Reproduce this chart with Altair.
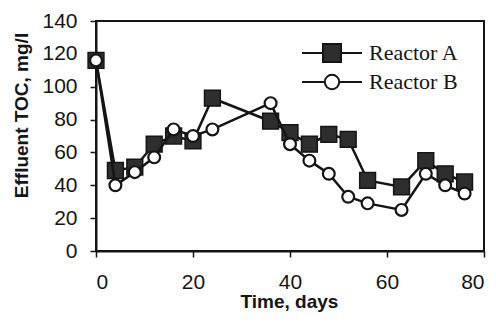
import altair as alt
import pandas as pd

days = [0, 4, 8, 12, 16, 20, 24, 36, 40, 44, 48, 52, 56, 63, 68, 72, 76]
reactor_a = [116, 49, 51, 65, 70, 67, 93, 79, 72, 65, 71, 68, 43, 39, 55, 47, 42]
reactor_b = [116, 40, 48, 57, 74, 70, 74, 90, 65, 55, 47, 33, 29, 25, 47, 40, 35]
series = ["Reactor A", "Reactor B"]
x_ticks = [0, 20, 40, 60, 80]
y_ticks = [0, 20, 40, 60, 80, 100, 120, 140]

n = len(days)
df = pd.DataFrame({
    "day": days * 2,
    "toc": reactor_a + reactor_b,
    "reactor": [series[0]] * n + [series[1]] * n,
})

INK = "#151515"

x = alt.X("day:Q", scale=alt.Scale(domain=[0, 80], nice=False),
          axis=alt.Axis(values=x_ticks, title="Time, days", labelPadding=14,
                        titleX=193, titleY=56, titleBaseline="alphabetic",
                        titleAlign="center"))
y = alt.Y("toc:Q", scale=alt.Scale(domain=[0, 140], nice=False),
          axis=alt.Axis(values=y_ticks, title="Effluent TOC, mg/l", labelPadding=13,
                        titleX=-69, titleY=94, titleAngle=270,
                        titleBaseline="alphabetic", titleAlign="center"))

base = alt.Chart(df).encode(x=x, y=y)

line_a = base.transform_filter(alt.datum.reactor == series[0]).mark_line(
    color=INK, strokeWidth=2.5)
pts_a = base.transform_filter(alt.datum.reactor == series[0]).mark_point(
    shape="square", filled=True, size=250, fill="#2e2e2e", stroke=INK,
    strokeWidth=1.5, opacity=1)
line_b = base.transform_filter(alt.datum.reactor == series[1]).mark_line(
    color=INK, strokeWidth=2.5)
pts_b = base.transform_filter(alt.datum.reactor == series[1]).mark_point(
    shape="circle", filled=True, size=140, fill="white", stroke=INK,
    strokeWidth=2.2, opacity=1)

path_a = "M-3,0H-0.9M0.9,0H3M-0.9,-0.9H0.9V0.9H-0.9Z"
path_b = ("M-3,0H-0.72M0.72,0H3M0.72,0A0.72,0.72 0 1,1 -0.72,0"
          "A0.72,0.72 0 1,1 0.72,0Z")

leg = alt.Legend(title=None, orient="none", legendX=225, legendY=21,
                 symbolSize=400, symbolStrokeWidth=2, symbolStrokeColor=INK,
                 labelFont="Liberation Serif", labelFontSize=22,
                 labelColor=INK, labelOffset=26, rowPadding=4, padding=0)

legend_layer = alt.Chart(df).transform_filter("false").mark_point(
    filled=True, size=400, strokeWidth=2, opacity=1).encode(
    x=x, y=y,
    shape=alt.Shape("reactor:N", scale=alt.Scale(domain=series, range=[path_a, path_b]), legend=leg),
    fill=alt.Fill("reactor:N", scale=alt.Scale(domain=series, range=["#2e2e2e", "white"]), legend=leg),
    stroke=alt.Stroke("reactor:N", scale=alt.Scale(domain=series, range=[INK, INK]), legend=leg),
)

chart = alt.layer(line_a, pts_a, line_b, pts_b, legend_layer).properties(
    width=388, height=230,
    padding={"left": 96, "top": 21, "right": 12, "bottom": 74},
    autosize=alt.AutoSizeParams(type="none"),
    background="white",
).configure_view(
    stroke=INK, strokeWidth=2
).configure_axis(
    grid=False, domainColor=INK, domainWidth=2, tickColor=INK, tickWidth=1.5,
    tickSize=6, labelFont="Liberation Sans", labelFontSize=21, labelColor=INK,
    titleFont="Liberation Sans", titleFontSize=19, titleFontWeight="bold",
    titleColor=INK,
)

chart.save("out.html", embed_options={"renderer": "svg", "actions": False})
